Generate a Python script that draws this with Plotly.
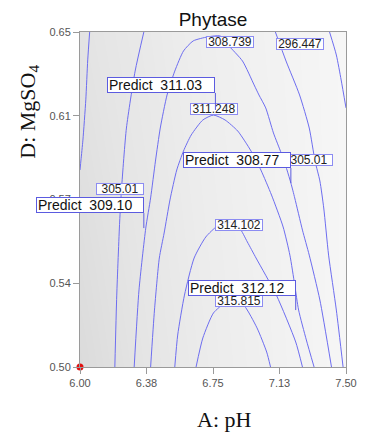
import plotly.graph_objects as go

# ---------------- data ----------------
ph_ticks = [6.0, 6.375, 6.75, 7.125, 7.5]
ph_labels = ["6.00", "6.38", "6.75", "7.13", "7.50"]
mg_ticks = [0.5, 0.5375, 0.575, 0.6125, 0.65]
mg_labels = ["0.50", "0.54", "0.57", "0.61", "0.65"]

# contour 315.815
c315_x = [6.6545, 6.6927, 6.7527, 6.8182, 6.8727, 6.9273, 6.9982, 7.0527, 7.0745]
c315_y = [0.500, 0.513, 0.5242, 0.5287, 0.5300, 0.5273, 0.5175, 0.5067, 0.500]
# contour 314.102
c314_x = [6.5345, 6.5509, 6.5891, 6.6436, 6.7091, 6.7745, 6.8455, 6.9000, 6.9436, 6.9927,
          7.1073, 7.2164, 7.2545]
c314_y = [0.500, 0.5143, 0.5322, 0.5488, 0.5582, 0.5631, 0.5649, 0.5622, 0.5560, 0.5488,
          0.5322, 0.5112, 0.500]
# contour 311.248
c311_x = [6.3982, 6.4200, 6.4473, 6.4745, 6.5073, 6.5455, 6.5836, 6.6273, 6.6927, 6.7527,
          6.8182, 6.8891, 6.9436, 6.9709, 7.0200, 7.0800, 7.1455, 7.1836, 7.2109, 7.2327,
          7.2764, 7.3200]
c311_y = [0.500, 0.5255, 0.5488, 0.5600, 0.5748, 0.5882, 0.5967, 0.6039, 0.6106, 0.6128,
          0.6106, 0.6057, 0.5994, 0.5958, 0.5882, 0.5770, 0.5627, 0.5501, 0.5367, 0.5255,
          0.5121, 0.500]
# contour 308.739
c308_x = [6.3055, 6.3327, 6.3709, 6.3982, 6.4255, 6.4527, 6.4909, 6.5345, 6.5836, 6.6382,
          6.7200, 6.7909, 6.8345, 6.9164, 6.9818, 7.0091, 7.0473, 7.0909, 7.1345, 7.1673,
          7.1891, 7.2109, 7.2545, 7.2927, 7.3527, 7.4182]
c308_y = [0.500, 0.5345, 0.5622, 0.5757, 0.5922, 0.6070, 0.6218, 0.6325, 0.6415, 0.6460,
          0.6478, 0.6482, 0.6442, 0.6370, 0.6263, 0.6218, 0.6160, 0.6048, 0.5958, 0.5882,
          0.5824, 0.5757, 0.5613, 0.5501, 0.5300, 0.500]
# contour 305.01 (left and right branches)
c305_x = [6.3600, 6.3109, 6.2618, 6.2345, 6.2236, 6.2073, 6.1964, None,
          7.1018, 7.1618, 7.2382, 7.2927, 7.3255, 7.3527, 7.3745, 7.4018, 7.4455, 7.4836]
c305_y = [0.650, 0.6325, 0.6070, 0.5801, 0.5649, 0.5322, 0.500, None,
          0.650, 0.6370, 0.6218, 0.6070, 0.5922, 0.5833, 0.5712, 0.5501, 0.5255, 0.500]
# outer unlabeled contour
c300_x = [6.0545, 6.0436, 6.0327, 6.0164, 6.0055, 6.0000, None,
          7.4073, 7.4455, 7.4727, 7.5000]
c300_y = [0.650, 0.6375, 0.6196, 0.6016, 0.5927, 0.5882, None,
          0.650, 0.6397, 0.6285, 0.6160]

# contour label texts and positions
clab_text = ["308.739", "296.447", "311.248", "305.01", "305.01", "314.102", "315.815"]
clab_x = [6.8455, 7.2382, 6.7582, 7.2927, 6.2236, 6.8945, 6.8945]
clab_y = [0.6455, 0.6446, 0.6155, 0.5927, 0.5797, 0.5636, 0.5296]

# prediction flags
pred_val = ["311.03", "308.77", "309.10", "312.12"]
pred_x = [6.7636, 7.1891, 6.3600, 7.2164]
pred_y = [0.6151, 0.5824, 0.5622, 0.5255]
pred_pole = [17, 15, 15, 14]

# design point
dp_x = [6.0]
dp_y = [0.50]

# background shading (style)
bg_x = [6.0, 6.375, 6.75, 7.125, 7.5]
bg_y = [0.5, 0.65]
bg_z = [[0, 1, 2, 3, 4], [0.8, 1.6, 2.5, 3.3, 4]]

# ---------------- figure ----------------
LINE = "#6d6df0"
fig = go.Figure()
fig.add_trace(go.Heatmap(
    x=bg_x, y=bg_y, z=bg_z, zmin=0, zmax=4, zsmooth="best", showscale=False,
    colorscale=[[0, "#dbdbdb"], [0.25, "#e5e5e5"], [0.5, "#ececec"],
                [0.75, "#f1f1f1"], [1, "#f6f6f6"]],
    hoverinfo="skip"))

for cx, cy in [(c315_x, c315_y), (c314_x, c314_y), (c311_x, c311_y),
               (c308_x, c308_y), (c305_x, c305_y), (c300_x, c300_y)]:
    fig.add_trace(go.Scatter(x=cx, y=cy, mode="lines",
                             line=dict(color=LINE, width=1, shape="spline", smoothing=0.6),
                             hoverinfo="skip", showlegend=False, connectgaps=False))

fig.add_trace(go.Scatter(x=dp_x, y=dp_y, mode="markers",
                         marker=dict(color="#e01010", size=7), cliponaxis=False,
                         hoverinfo="skip", showlegend=False))

annotations = []
for t, x, y in zip(clab_text, clab_x, clab_y):
    annotations.append(dict(
        x=x, y=y, xref="x", yref="y", text=t, showarrow=False,
        font=dict(family="Liberation Sans, Arial", size=12, color="#222"),
        bgcolor="rgba(255,255,255,0.9)", bordercolor="#8c8cf2", borderwidth=1,
        borderpad=0, height=10, width=46))

for v, x, y, p in zip(pred_val, pred_x, pred_y, pred_pole):
    annotations.append(dict(
        x=x, y=y, xref="x", yref="y", text="Predict  " + v,
        showarrow=True, arrowhead=0, arrowwidth=1, arrowcolor="#5b5be0",
        ax=0, ay=-p, standoff=0, xanchor="right", yanchor="bottom",
        font=dict(family="Liberation Sans, Arial", size=14, color="#111"),
        bgcolor="#ffffff", bordercolor="#5b5be0", borderwidth=1, borderpad=1,
        align="left", width=104, height=12))

annotations.append(dict(
    x=0.545, y=-0.158, xref="paper", yref="paper", text="A: pH", showarrow=False,
    xanchor="center", yanchor="middle",
    font=dict(family="Liberation Serif, Times New Roman", size=22, color="#111")))
annotations.append(dict(
    x=-0.193, y=0.761, xref="paper", yref="paper", text="D: MgSO<sub>4</sub>",
    showarrow=False, textangle=-90, xanchor="center", yanchor="middle",
    font=dict(family="Liberation Serif, Times New Roman", size=22, color="#111")))

axis_common = dict(showline=True, linecolor="#9a9a9a", linewidth=1, mirror=True,
                   showgrid=False, zeroline=False, ticks="outside", ticklen=6,
                   tickcolor="#9a9a9a",
                   tickfont=dict(family="Liberation Sans, Arial", size=11, color="#555"))

fig.update_layout(
    width=369, height=440,
    margin=dict(l=80, r=14, t=32, b=73),
    paper_bgcolor="white", plot_bgcolor="#ececec",
    showlegend=False,
    title=dict(text="Phytase", x=0.5, xref="paper", xanchor="center",
               y=1 - 19 / 440, yref="container", yanchor="middle",
               font=dict(family="Liberation Sans, Arial", size=19, color="#111")),
    xaxis=dict(range=[6.0, 7.5], tickvals=ph_ticks, ticktext=ph_labels, **axis_common),
    yaxis=dict(range=[0.5, 0.65], tickvals=mg_ticks, ticktext=mg_labels, **axis_common),
    annotations=annotations,
)

fig.write_html("out.html")
